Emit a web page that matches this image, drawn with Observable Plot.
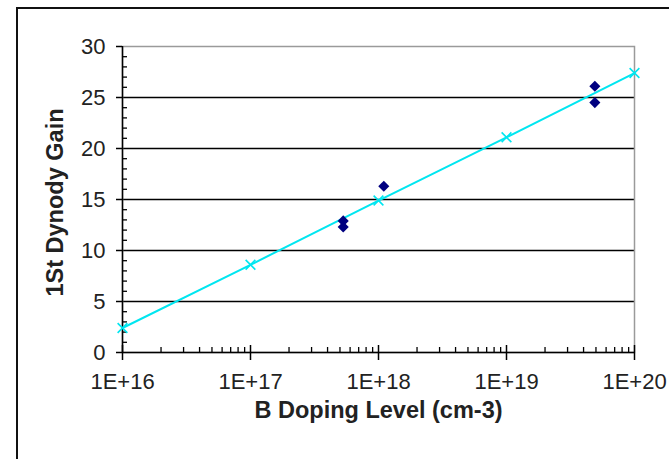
<!DOCTYPE html>
<html><head><meta charset="utf-8">
<script src="https://cdn.jsdelivr.net/npm/d3@7"></script>
<script src="https://cdn.jsdelivr.net/npm/@observablehq/plot@0.6"></script>
<style>
html,body{margin:0;padding:0;background:#fff;}
#wrap{position:relative;width:669px;height:459px;overflow:hidden;}
#border{position:absolute;left:16px;top:7px;width:720px;height:520px;border:2px solid #111;box-sizing:border-box;}
#chart{position:absolute;left:0;top:0;}
</style></head><body>
<div id="wrap"><div id="border"></div><div id="chart"></div></div>
<script>
// Fitted line (cyan, x markers)
const fitDoping = [1e16, 1e17, 1e18, 1e19, 1e20];
const fitGain = [2.4, 8.6, 14.9, 21.1, 27.4];
// Measured points (navy diamonds)
const measDoping = [5.3e17, 5.3e17, 1.1e18, 4.9e19, 4.9e19];
const measGain = [12.9, 12.3, 16.3, 26.1, 24.5];
// Ticks
const yMajor = [0, 5, 10, 15, 20, 25, 30];
const yGrid = [5, 10, 15, 20, 25];
const yMinor = [1,2,3,4,6,7,8,9,11,12,13,14,16,17,18,19,21,22,23,24,26,27,28,29];
const xMajor = [1e16, 1e17, 1e18, 1e19, 1e20];
const xTickLabels = ["1E+16", "1E+17", "1E+18", "1E+19", "1E+20"];
const minorMultipliers = [2, 3, 4, 5, 6, 7, 8, 9];
const xMinor = xMajor.slice(0, -1).flatMap(d => minorMultipliers.map(m => d * m));
const xTitle = "B Doping Level (cm-3)";
const yTitle = "1St Dynody Gain";

const fit = fitDoping.map((d, i) => ({doping: d, gain: fitGain[i]}));
const meas = measDoping.map((d, i) => ({doping: d, gain: measGain[i]}));

const cyan = "#00E6F0";
const font = "Liberation Sans, Arial, Helvetica, sans-serif";

const chart = Plot.plot({
  width: 669,
  height: 459,
  marginLeft: 122,
  marginRight: 35,
  marginTop: 46,
  marginBottom: 107,
  style: {background: "transparent", fontFamily: font, color: "#000"},
  x: {type: "log", domain: [1e16, 1e20]},
  y: {domain: [0, 30]},
  marks: [
    Plot.ruleY(yGrid, {stroke: "#000", strokeWidth: 1.4}),
    Plot.frame({stroke: "#9a9a9a", strokeWidth: 1.5}),
    Plot.ruleX([1e16], {stroke: "#000", strokeWidth: 1.5}),
    Plot.ruleY([0], {stroke: "#000", strokeWidth: 1.5}),
    // y ticks
    Plot.axisY(yMajor, {tickSize: 6, fill: "none", stroke: "#000", strokeWidth: 1.5, label: null}),
    Plot.axisY(yMinor, {tickSize: 5, dx: 5, fill: "none", stroke: "#000", strokeWidth: 1.3, label: null}),
    Plot.axisY(yMajor, {tickSize: 0, tickPadding: 17, fontSize: 22, fill: "#222", label: null}),
    // x ticks
    Plot.axisX(xMajor, {tickSize: 15, dy: -7, fill: "none", stroke: "#000", strokeWidth: 1.5, label: null}),
    Plot.axisX(xMinor, {tickSize: 5, dy: -5, fill: "none", stroke: "#000", strokeWidth: 1.3, label: null}),
    Plot.axisX(xMajor, {tickSize: 0, tickPadding: 21, fontSize: 22, fill: "#222", label: null,
      tickFormat: d => xTickLabels[xMajor.indexOf(d)]}),
    // data
    Plot.line(fit, {x: "doping", y: "gain", stroke: cyan, strokeWidth: 2}),
    Plot.dot(fit, {x: "doping", y: "gain", symbol: "times", r: 4.5, stroke: cyan, strokeWidth: 1.6}),
    Plot.dot(meas, {x: "doping", y: "gain", symbol: "diamond2", r: 5, fill: "#000080", stroke: "none"}),
    // titles
    Plot.text([yTitle], {frameAnchor: "left", textAnchor: "middle", lineAnchor: "middle", dx: -67, dy: 3, rotate: -90, fontSize: 23.5, fontWeight: "bold", fill: "#222"}),
    Plot.text([xTitle], {frameAnchor: "bottom", textAnchor: "middle", lineAnchor: "middle", dy: 58, fontSize: 23.5, fontWeight: "bold", fill: "#222"})
  ]
});
document.getElementById("chart").appendChild(chart);
</script>
</body></html>
